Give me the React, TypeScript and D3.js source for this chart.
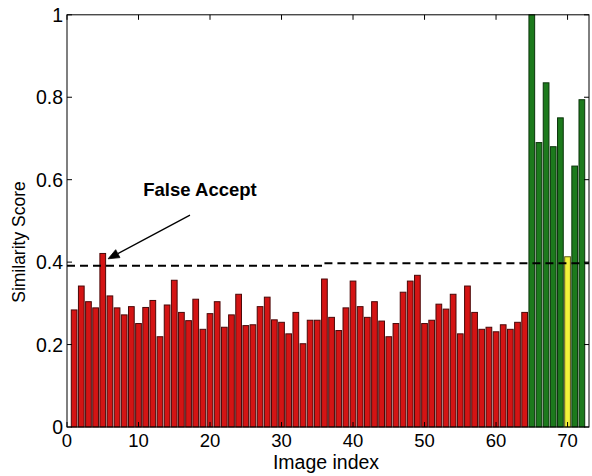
import React from "react";
import * as d3 from "d3";

// Similarity score for each image (index = position + 1)
const scores: number[] = [
  0.284, 0.342, 0.304, 0.289, 0.421, 0.318, 0.289, 0.272, 0.292, 0.251,
  0.29, 0.307, 0.219, 0.296, 0.356, 0.278, 0.258, 0.31, 0.237, 0.275,
  0.304, 0.242, 0.272, 0.322, 0.246, 0.248, 0.292, 0.315, 0.26, 0.254,
  0.226, 0.278, 0.202, 0.259, 0.259, 0.359, 0.266, 0.234, 0.289, 0.354,
  0.292, 0.266, 0.304, 0.257, 0.219, 0.251, 0.327, 0.354, 0.368, 0.251,
  0.259, 0.298, 0.286, 0.322, 0.226, 0.342, 0.278, 0.237, 0.242, 0.231,
  0.248, 0.237, 0.254, 0.278,
  1.0, 0.69, 0.835, 0.68, 0.75, 0.413, 0.633, 0.794,
];
// class of each image: I = impostor, G = genuine, L = genuine below threshold
const classes: string[] = (
  "IIIIIIIIII" + "IIIIIIIIII" + "IIIIIIIIII" + "IIIIIIIIII" + "IIIIIIIIII" + "IIIIIIIIII" + "IIII" +
  "GGGGGLGG"
).split("");

const xTicks = [0, 10, 20, 30, 40, 50, 60, 70];
const yTicks = [0, 0.2, 0.4, 0.6, 0.8, 1];
const yTickLabels = ["0", "0.2", "0.4", "0.6", "0.8", "1"];

// threshold line segments [x0, x1, value]
const thresholdSegments: [number, number, number][] = [
  [0, 36, 0.391],
  [36, 73, 0.397],
];

const annotationText = "False Accept";
const annotationTextPos: [number, number] = [18.6, 0.56];
const arrowTail: [number, number] = [17.2, 0.514];
const arrowTip: [number, number] = [5.75, 0.408];

const fills: Record<string, string> = { I: "#d41414", G: "#1c7a1c", L: "#f2f23a" };
const strokes: Record<string, string> = { I: "#4a0808", G: "#0a330a", L: "#5a5a10" };

const W = 592;
const H = 476;
const FONT = "'Liberation Sans', Arial, sans-serif";

export default function App() {
  const x = d3.scaleLinear().domain([0, 73]).range([67, 589]);
  const y = d3.scaleLinear().domain([0, 1]).range([427, 14.8]);
  const barW = 0.8 * (x(1) - x(0));

  const [x0, x1] = x.range();
  const [yb, yt] = y.range();

  const tipX = x(arrowTip[0]);
  const tipY = y(arrowTip[1]);
  const tailX = x(arrowTail[0]);
  const tailY = y(arrowTail[1]);
  const ang = Math.atan2(tailY - tipY, tailX - tipX);
  const hl = 11;
  const hw = 4.5;
  const bx = tipX + hl * Math.cos(ang);
  const by = tipY + hl * Math.sin(ang);
  const px = -Math.sin(ang) * hw;
  const py = Math.cos(ang) * hw;
  const head = `M${tipX},${tipY}L${bx + px},${by + py}L${bx},${by}L${bx - px},${by - py}Z`;

  return (
    <svg
      width={W}
      height={H}
      style={{ position: "absolute", left: 0, top: 0, background: "#fff" }}
      fontFamily={FONT}
    >
      <rect x={0} y={0} width={W} height={H} fill="#fff" />
      {scores.map((v, i) => {
        const c = classes[i];
        const cx = x(i + 1);
        return (
          <rect
            key={i}
            x={cx - barW / 2}
            y={y(v)}
            width={barW}
            height={y(0) - y(v)}
            fill={fills[c]}
            stroke={strokes[c]}
            strokeWidth={1}
          />
        );
      })}
      {thresholdSegments.map(([a, b, v], i) => (
        <line
          key={i}
          x1={x(a)}
          x2={x(b)}
          y1={y(v)}
          y2={y(v)}
          stroke="#000"
          strokeWidth={2}
          strokeDasharray="8,5"
        />
      ))}
      {/* axes box */}
      <rect x={x0} y={yt} width={x1 - x0} height={yb - yt} fill="none" stroke="#000" strokeWidth={1} />
      {xTicks.map((t) => (
        <g key={"x" + t}>
          <line x1={x(t)} x2={x(t)} y1={yb} y2={yb - 5} stroke="#000" />
          <line x1={x(t)} x2={x(t)} y1={yt} y2={yt + 5} stroke="#000" />
          <text x={x(t)} y={447} textAnchor="middle" fontSize={18.5} fill="#000">
            {t}
          </text>
        </g>
      ))}
      {yTicks.map((t, i) => (
        <g key={"y" + t}>
          <line x1={x0} x2={x0 + 5} y1={y(t)} y2={y(t)} stroke="#000" />
          <line x1={x1} x2={x1 - 5} y1={y(t)} y2={y(t)} stroke="#000" />
          <text x={63} y={y(t) + 7} textAnchor="end" fontSize={19.5} fill="#000">
            {yTickLabels[i]}
          </text>
        </g>
      ))}
      <text x={326} y={469} textAnchor="middle" fontSize={19.5} fill="#000">
        Image index
      </text>
      <text
        transform={`translate(25,242) rotate(-90)`}
        textAnchor="middle"
        fontSize={17.5}
        fill="#000"
      >
        Similarity Score
      </text>
      <text
        x={x(annotationTextPos[0])}
        y={y(annotationTextPos[1])}
        textAnchor="middle"
        fontSize={18.5}
        fontWeight="bold"
        fill="#000"
      >
        {annotationText}
      </text>
      <line x1={tailX} y1={tailY} x2={bx} y2={by} stroke="#000" strokeWidth={1.2} />
      <path d={head} fill="#000" stroke="#000" strokeWidth={0.8} />
    </svg>
  );
}
